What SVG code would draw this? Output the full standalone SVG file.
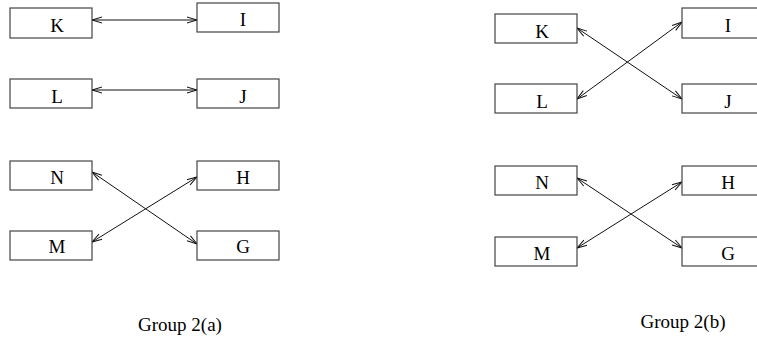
<svg xmlns="http://www.w3.org/2000/svg" width="757" height="345" viewBox="0 0 757 345">
<style>
.box{fill:#fff;stroke:#444;stroke-width:1.2}
.lbl{font-family:"Liberation Serif",serif;font-size:19px;fill:#000;text-anchor:middle}
.cap{font-family:"Liberation Serif",serif;font-size:19px;fill:#000;text-anchor:middle}
.con{stroke:#111;stroke-width:1;fill:none;marker-start:url(#ah);marker-end:url(#ah)}
</style>
<defs>
<marker id="ah" markerUnits="userSpaceOnUse" markerWidth="12" markerHeight="8" viewBox="0 0 12 8" refX="11" refY="4" orient="auto-start-reverse">
<path d="M1,1 L11,4 L1,7" fill="none" stroke="#111" stroke-width="1"/>
</marker>
</defs>
<rect width="757" height="345" fill="#fff"/>
<g id="connectors">
<line class="con" x1="92" y1="20" x2="197" y2="20"/>
<line class="con" x1="92" y1="90" x2="197" y2="90"/>
<line class="con" x1="92" y1="172" x2="197" y2="244"/>
<line class="con" x1="92" y1="242" x2="197" y2="177"/>
<line class="con" x1="577" y1="28" x2="682" y2="99"/>
<line class="con" x1="577" y1="99" x2="682" y2="22"/>
<line class="con" x1="577" y1="178" x2="682" y2="248"/>
<line class="con" x1="577" y1="248" x2="682" y2="182"/>
</g>
<g id="a-K"><rect class="box" x="10" y="8" width="82" height="30"/><text class="lbl" x="57" y="32">K</text></g>
<g id="a-I"><rect class="box" x="197" y="3" width="82" height="29"/><text class="lbl" x="243" y="26">I</text></g>
<g id="a-L"><rect class="box" x="10" y="79" width="82" height="29"/><text class="lbl" x="57" y="103">L</text></g>
<g id="a-J"><rect class="box" x="197" y="79" width="82" height="29"/><text class="lbl" x="243" y="103">J</text></g>
<g id="a-N"><rect class="box" x="10" y="161" width="82" height="29"/><text class="lbl" x="57" y="184">N</text></g>
<g id="a-H"><rect class="box" x="197" y="161" width="82" height="29"/><text class="lbl" x="243" y="184">H</text></g>
<g id="a-M"><rect class="box" x="10" y="231" width="82" height="29"/><text class="lbl" x="57" y="253">M</text></g>
<g id="a-G"><rect class="box" x="197" y="231" width="82" height="29"/><text class="lbl" x="243" y="253">G</text></g>
<g id="b-K"><rect class="box" x="495" y="14" width="82" height="29"/><text class="lbl" x="542" y="38">K</text></g>
<g id="b-I"><rect class="box" x="682" y="8" width="82" height="30"/><text class="lbl" x="728" y="32">I</text></g>
<g id="b-L"><rect class="box" x="495" y="84" width="82" height="29"/><text class="lbl" x="542" y="108">L</text></g>
<g id="b-J"><rect class="box" x="682" y="84" width="82" height="29"/><text class="lbl" x="728" y="108">J</text></g>
<g id="b-N"><rect class="box" x="495" y="166" width="82" height="29"/><text class="lbl" x="542" y="189">N</text></g>
<g id="b-H"><rect class="box" x="682" y="166" width="82" height="29"/><text class="lbl" x="728" y="189">H</text></g>
<g id="b-M"><rect class="box" x="495" y="237" width="82" height="29"/><text class="lbl" x="542" y="260">M</text></g>
<g id="b-G"><rect class="box" x="682" y="237" width="82" height="29"/><text class="lbl" x="728" y="260">G</text></g>
<text class="cap" x="180" y="331">Group 2(a)</text>
<text class="cap" x="683" y="328">Group 2(b)</text>
</svg>
